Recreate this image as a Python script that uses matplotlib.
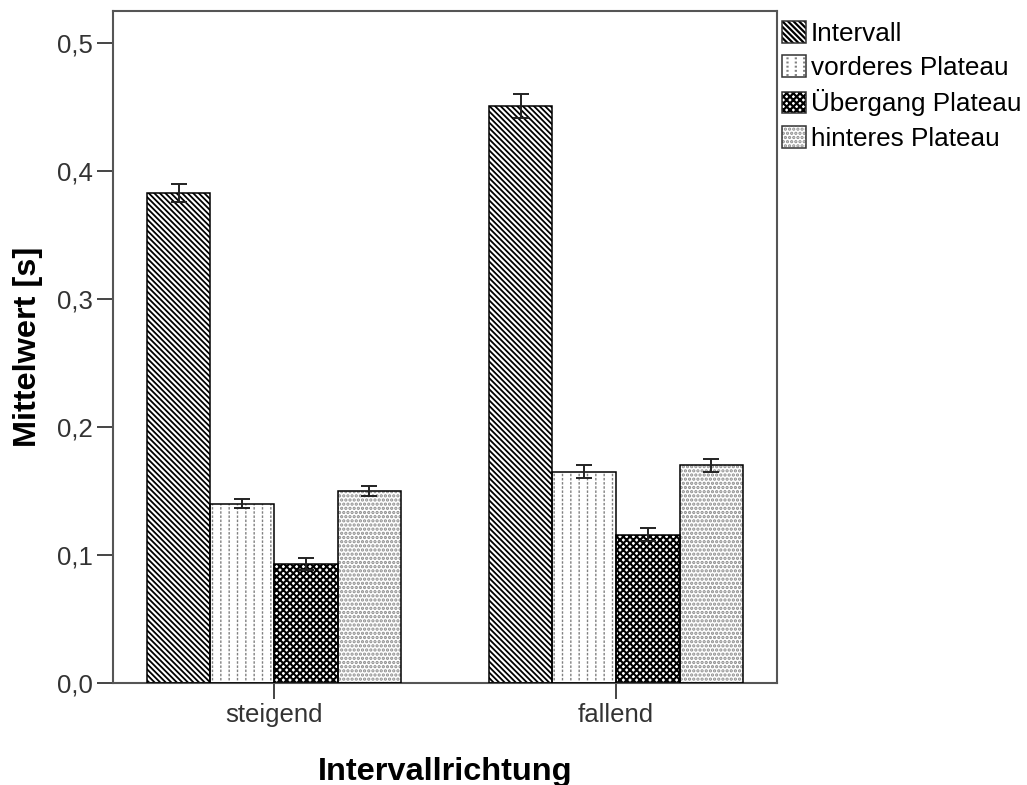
import matplotlib
matplotlib.use("Agg")
import matplotlib.pyplot as plt
import numpy as np
from matplotlib.patches import Patch
from matplotlib.ticker import FuncFormatter

plt.rcParams['font.family'] = ['Liberation Sans', 'DejaVu Sans']

# data
categories = ['steigend', 'fallend']
series = ['Intervall', 'vorderes Plateau', 'Übergang Plateau', 'hinteres Plateau']
intervall = [0.383, 0.451]
vorderes = [0.140, 0.165]
uebergang = [0.093, 0.116]
hinteres = [0.150, 0.170]
intervall_err = [0.0070, 0.0094]
vorderes_err = [0.0034, 0.0050]
uebergang_err = [0.0044, 0.0052]
hinteres_err = [0.0039, 0.0052]
yticks = [0.0, 0.1, 0.2, 0.3, 0.4, 0.5]

values = [intervall, vorderes, uebergang, hinteres]
errors = [intervall_err, vorderes_err, uebergang_err, hinteres_err]

# hatch style per series: (hatch, hatch colour, hatch width, white overlay hatch)
styles = [
    ('\\' * 6, 'black', 1.3, None),
    ('||', '#808080', 1.0, '----'),
    ('x' * 5, 'black', 1.5, None),
    ('....', '#8c8c8c', 1.6, None),
]

fig = plt.figure(figsize=(10.27, 7.85), dpi=100)
ax = fig.add_axes([113 / 1027, 1 - 683 / 785, 664 / 1027, 672 / 785])

x = np.arange(len(categories))
w = 0.186
offsets = [-1.5, -0.5, 0.5, 1.5]

handles = []
for vals, errs, off, (h, hc, hlw, over) in zip(values, errors, offsets, styles):
    pos = x + off * w
    plt.rcParams['hatch.linewidth'] = hlw
    b1 = ax.bar(pos, vals, w, color='white', edgecolor=hc, hatch=h, linewidth=0, zorder=2)
    for p in b1:
        if hasattr(p, 'set_hatch_linewidth'):
            p.set_hatch_linewidth(hlw)
    parts = [Patch(facecolor='white', edgecolor=hc, hatch=h, linewidth=0)]
    if over:
        plt.rcParams['hatch.linewidth'] = 1.2
        b2 = ax.bar(pos, vals, w, fill=False, edgecolor='white', hatch=over, linewidth=0, zorder=3)
        for p in b2:
            if hasattr(p, 'set_hatch_linewidth'):
                p.set_hatch_linewidth(1.2)
        parts.append(Patch(fill=False, edgecolor='white', hatch=over, linewidth=0))
    ax.bar(pos, vals, w, fill=False, edgecolor='black', linewidth=1.1, zorder=4)
    parts.append(Patch(fill=False, edgecolor='#333333', linewidth=1.1))
    ax.errorbar(pos, vals, yerr=errs, fmt='none', ecolor='#222222', elinewidth=1.4,
                capsize=6, capthick=1.4, zorder=5)
    handles.append(tuple(parts))

ax.set_xlim(-0.471, 1.471)
ax.set_ylim(0, 0.525)
ax.set_xticks(x)
ax.set_xticklabels(categories)
ax.set_yticks(yticks)
ax.yaxis.set_major_formatter(FuncFormatter(lambda v, p: f'{v:.1f}'.replace('.', ',')))

for s in ax.spines.values():
    s.set_color('#555555')
    s.set_linewidth(1.5)
ax.tick_params(axis='both', direction='out', length=11.5, width=1.4, color='#444444',
               labelsize=18.5, labelcolor='#333333', pad=3)

ax.set_xlabel('Intervallrichtung', fontsize=23.4, fontweight='bold')
ax.set_ylabel('Mittelwert [s]', fontsize=23.4, fontweight='bold')
ax.xaxis.label.set_va('baseline')
ax.yaxis.label.set_va('baseline')
ax.xaxis.set_label_coords(0.5, (683 - 780) / 672)
ax.yaxis.set_label_coords((36 - 113) / 664, 0.5)

fig.legend(handles, series, loc='upper left', bbox_to_anchor=(782 / 1027, 1 - 21 / 785),
           frameon=False, fontsize=18.8, handlelength=0.9, handleheight=0.9,
           handletextpad=0.2, labelspacing=0.36, borderpad=0, borderaxespad=0)

fig.savefig('out.png', dpi=100)
